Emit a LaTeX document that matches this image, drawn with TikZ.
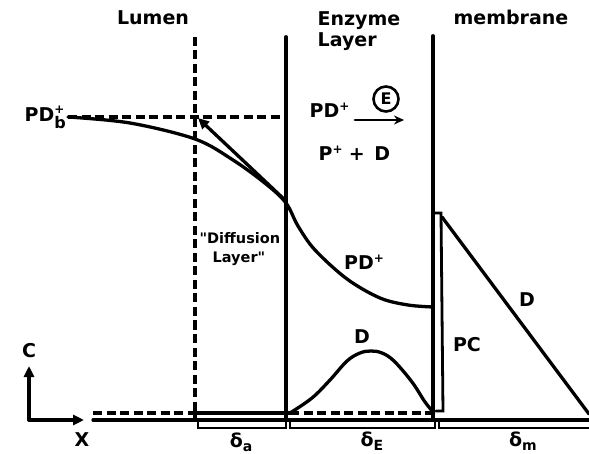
\documentclass[tikz,border=0pt]{standalone}
\usepackage{fontspec}
\setmainfont{DejaVu Sans}
\usetikzlibrary{arrows.meta}
\begin{document}
\begin{tikzpicture}[x=1pt,y=-1pt,line width=3.3pt,line cap=round,
  lab/.style={font=\fontsize{19}{21}\selectfont\bfseries,inner sep=0pt},
  small/.style={font=\fontsize{14.5}{17}\selectfont\bfseries,inner sep=0pt,align=left},
  dsh/.style={dash pattern=on 9pt off 4.5pt,line cap=butt,line width=3.6pt},
  brk/.style={line width=2.6pt,line cap=butt},
  tip/.style={-{Triangle[length=11pt,width=10pt]}}]
\useasboundingbox (0,0) rectangle (589,454);
% frame coordinates
\coordinate (dTop) at (195,37);  \coordinate (dBot) at (195,420);
\coordinate (eTop) at (286,37);  \coordinate (eBot) at (286,420);
\coordinate (mTop) at (433,36);  \coordinate (mBot) at (433,420);
% header labels
\node[lab] (lumen) at (153,18) {Lumen};
\node[lab,anchor=west,align=left] (enzyme) at (316,31) {Enzyme\\[0pt]Layer};
\node[lab] (membrane) at (511,17) {membrane};
% vertical lines
\draw[dsh] (dTop) -- (dBot);
\draw[line width=3.8pt] (eTop) -- (eBot);
\draw[line width=3.8pt] (mTop) -- (mBot);
% bulk concentration
\node[lab,anchor=west] (pdb) at (23,117) {PD\rlap{\raisebox{8pt}{\fontsize{12}{13}\selectfont+}}\raisebox{-7pt}{\fontsize{16}{17}\selectfont b}};
\coordinate (bulk) at (68,117);
\coordinate (eL) at (286,117);
\draw[dsh] (bulk) -- (eL);
% PD+ profile
\draw plot[smooth,tension=0.55] coordinates {(68,117) (130,123) (195,139) (233,160) (266,184) (286,203) (298,226) (315,250) (347,279) (380,298) (408,305) (433,307)};
% arrow from curve to bulk corner
\coordinate (arrS) at (286,201);
\coordinate (arrE) at (198,118);
\draw[tip] (arrS) -- (arrE);
% reaction
\node[lab,anchor=west] (pdr) at (308,110) {PD\raisebox{7pt}{\fontsize{12}{13}\selectfont+}};
\node[draw,circle,line width=2.6pt,minimum size=25pt,inner sep=0pt,font=\fontsize{16}{17}\selectfont\bfseries] (enz) at (386,99) {E};
\coordinate (rxS) at (355,120);
\coordinate (rxE) at (404,120);
\draw[-{Stealth[length=10pt,width=9pt]},line width=2.8pt] (rxS) -- (rxE);
\node[lab,anchor=west] (prod) at (317,153) {P\raisebox{7pt}{\fontsize{12}{13}\selectfont+}\,\,+\,\,\,D};
% diffusion layer label
\node[small,anchor=north west] (diff) at (198,231) {\textquotedbl Diffusion\\[2pt]\hspace*{13pt}Layer\textquotedbl};
\node[lab] (pdmid) at (364,262) {PD\raisebox{7pt}{\fontsize{12}{13}\selectfont+}};
% D profile in enzyme layer
\draw plot[smooth,tension=0.6] coordinates {(290,413) (312,398) (330,380) (347,361) (360,353) (371,351) (382,353) (394,361) (412,382) (425,402) (434,413)};
\node[lab] (dbell) at (362,337) {D};
% PC in membrane
\coordinate (pcTL) at (433,213);
\coordinate (pcTR) at (441,213);
\coordinate (pcBR) at (443,411);
\coordinate (pcBL) at (436,411);
\draw[line width=2.8pt] (pcTL) -- (pcTR) -- (pcBR) -- (pcBL);
\node[lab] (pc) at (467,345) {PC};
% D in membrane
\coordinate (dmS) at (442,217);
\coordinate (dmE) at (589,414);
\draw (dmS) -- (dmE);
\node[lab] (dmem) at (527,300) {D};
% base lines
\coordinate (b0) at (93,413);
\coordinate (b1) at (195,413);
\coordinate (b2) at (290,413);
\coordinate (b3) at (433,413);
\draw[dsh] (b0) -- (b1);
\draw (b1) -- (b2);
\draw[dsh] (b2) -- (b3);
\coordinate (l0) at (93,420);
\coordinate (l1) at (589,420);
\draw (l0) -- (l1);
% brackets
\draw[brk] (198,420) -- (198,428) -- (286,428) -- (286,420);
\draw[brk] (290,420) -- (290,428) -- (435,428) -- (435,420);
\draw[brk] (439,420) -- (439,428) -- (589,428);
\node[lab] (da) at (241,442) {δ\raisebox{-4pt}{\fontsize{14}{15}\selectfont a}};
\node[lab] (dE) at (372,441) {δ\raisebox{-4pt}{\fontsize{14}{15}\selectfont E}};
\node[lab] (dm) at (523,441) {δ\raisebox{-4pt}{\fontsize{14}{15}\selectfont m}};
% axes
\coordinate (org) at (29,420);
\coordinate (cTip) at (29,366);
\coordinate (xTip) at (84,420);
\draw[tip] (org) -- (cTip);
\draw[tip] (org) -- (xTip);
\node[lab] (clab) at (29,351) {C};
\node[lab] (xlab) at (82,440) {X};
\end{tikzpicture}
\end{document}
